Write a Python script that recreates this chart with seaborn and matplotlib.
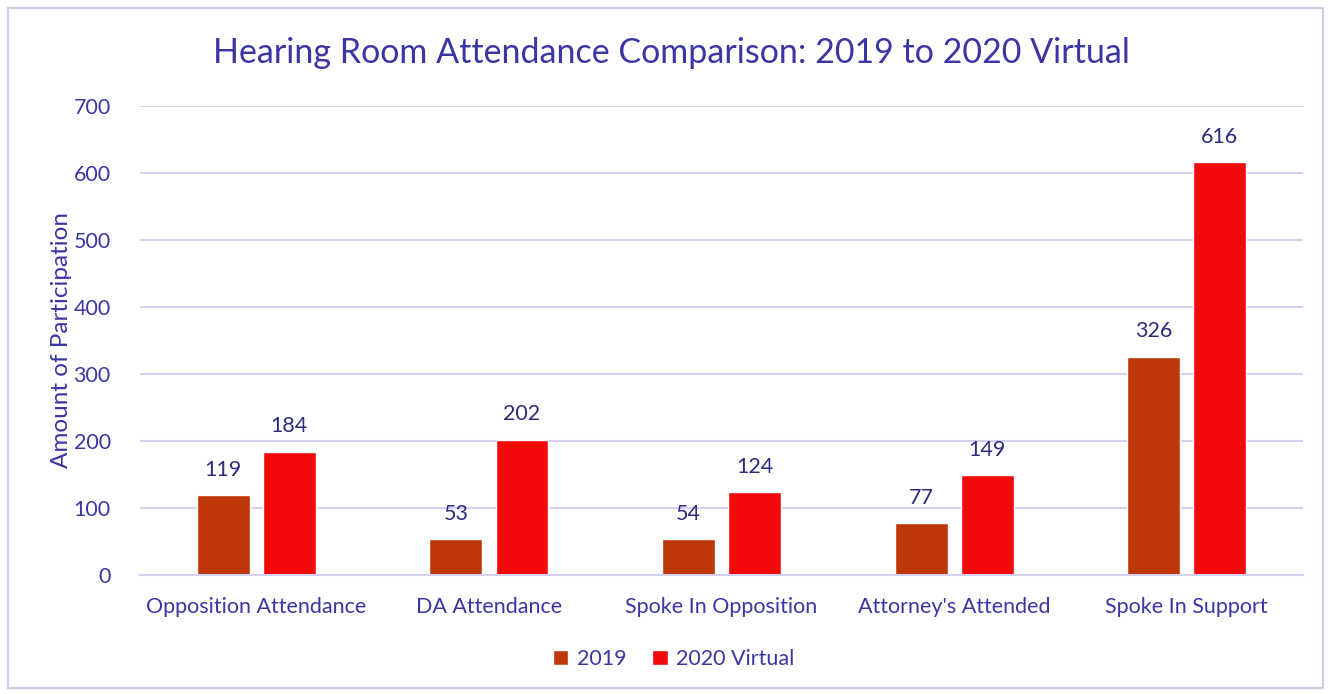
import matplotlib
matplotlib.use("Agg")
import matplotlib.pyplot as plt
import pandas as pd
import seaborn as sns
from matplotlib.patches import Rectangle

categories = ["Opposition Attendance", "DA Attendance", "Spoke In Opposition",
              "Attorney's Attended", "Spoke In Support"]
vals_2019 = [119, 53, 54, 77, 326]
vals_2020 = [184, 202, 124, 149, 616]
series = ["2019", "2020 Virtual"]
yticks = [0, 100, 200, 300, 400, 500, 600, 700]

df = pd.DataFrame({
    "category": categories * 2,
    "value": vals_2019 + vals_2020,
    "series": [series[0]] * len(categories) + [series[1]] * len(categories),
})

text_col = "#3B36A3"
label_col = "#2E2B7C"
grid_col = "#D4D0F0"

sns.set_theme(style="white")
plt.rcParams["font.family"] = ["Lato", "DejaVu Sans"]

fig = plt.figure(figsize=(13.31, 6.94), dpi=100)
ax = fig.add_axes([0.1052, 0.1715, 0.8738, 0.6758])

sns.barplot(data=df, x="category", y="value", hue="series", order=categories,
            hue_order=series, palette=["#BE360A", "#F20A0A"], width=0.568, gap=0.2,
            saturation=1, ax=ax, legend=True)

for cont in ax.containers:
    ax.bar_label(cont, padding=11, fontsize=15.5, color=label_col)

ax.set_ylim(0, 700)
ax.set_yticks(yticks)
ax.set_xlim(-0.5, 4.5)
ax.yaxis.grid(True, color=grid_col, linewidth=1.5)
ax.set_axisbelow(True)
for s in ["top", "right", "left"]:
    ax.spines[s].set_visible(False)
ax.spines["bottom"].set_color(grid_col)
ax.spines["bottom"].set_linewidth(1.5)
ax.tick_params(axis="both", length=0, labelsize=15.5, labelcolor=text_col)
ax.tick_params(axis="x", pad=16)
ax.tick_params(axis="y", pad=21)
ax.set_xlabel("")
ax.set_ylabel("Amount of Participation", fontsize=17.5, color=text_col, labelpad=1)

ax.set_title("Hearing Room Attendance Comparison: 2019 to 2020 Virtual",
             fontsize=24.5, color=text_col, pad=31, x=0.457)

leg = ax.legend(loc="center", bbox_to_anchor=(0.459, -0.18), ncol=2, frameon=False,
                fontsize=15.5, handlelength=0.7, handleheight=0.7, columnspacing=1.2,
                handletextpad=0.4)
for t in leg.get_texts():
    t.set_color(text_col)

fig.patches.append(Rectangle((0.006, 0.009), 0.988, 0.98, transform=fig.transFigure,
                             fill=False, edgecolor="#CFCBEE", linewidth=1.5))

fig.savefig("out.png", dpi=100)
